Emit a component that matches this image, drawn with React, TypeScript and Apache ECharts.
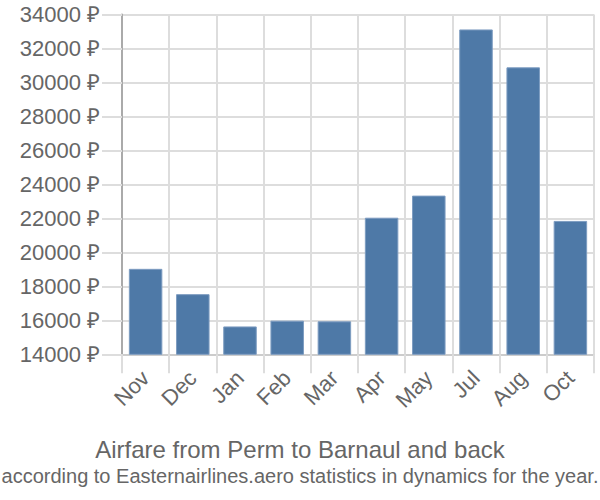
import React, { useEffect, useRef } from "react";
import * as echarts from "echarts";

const categories = ["Nov", "Dec", "Jan", "Feb", "Mar", "Apr", "May", "Jul", "Aug", "Oct"];
const prices = [19030, 17540, 15640, 15980, 15940, 22040, 23340, 33120, 30890, 21850];
const yMin = 14000;
const yMax = 34000;
const yStep = 2000;
const titleText = "Airfare from Perm to Barnaul and back";
const subtitleText = "according to Easternairlines.aero statistics in dynamics for the year.";

const FONT = "'Liberation Sans', Arial, sans-serif";
const TEXT = "#666666";

export default function App() {
  const ref = useRef<HTMLDivElement>(null);
  useEffect(() => {
    if (!ref.current) return;
    const chart = echarts.init(ref.current, undefined, { renderer: "svg" });
    chart.setOption({
      animation: false,
      title: [
        {
          text: titleText,
          left: "center",
          top: 432,
          textStyle: { fontFamily: FONT, fontSize: 24, fontWeight: "normal", color: TEXT },
        },
        {
          text: subtitleText,
          left: "center",
          top: 461,
          textStyle: { fontFamily: FONT, fontSize: 20, fontWeight: "normal", color: TEXT },
        },
      ],
      grid: { left: 122, right: 6, top: 14.5, bottom: 145.7, containLabel: false },
      xAxis: {
        type: "category",
        data: categories,
        axisLine: { show: true, lineStyle: { color: "#cccccc", width: 2 } },
        axisTick: { show: true, length: 19, lineStyle: { color: "#dddddd", width: 2 } },
        splitLine: { show: true, lineStyle: { color: "#dddddd", width: 2 } },
        axisLabel: {
          rotate: 45,
          margin: 20,
          fontFamily: FONT,
          fontSize: 22,
          color: TEXT,
        },
      },
      yAxis: {
        type: "value",
        min: yMin,
        max: yMax,
        interval: yStep,
        axisLine: { show: true, lineStyle: { color: "#aaaaaa", width: 2 } },
        axisTick: { show: true, length: 20, lineStyle: { color: "#dddddd", width: 2 } },
        splitLine: { show: true, lineStyle: { color: "#dddddd", width: 2 } },
        axisLabel: {
          margin: 22,
          fontFamily: FONT,
          fontSize: 22,
          color: TEXT,
          formatter: (v: number) => `${v} ₽`,
        },
      },
      series: [
        {
          type: "bar",
          data: prices,
          barCategoryGap: "29%",
          itemStyle: { color: "#4e79a7", borderColor: "#7d9cc1", borderWidth: 1 },
        },
      ],
    });
    return () => chart.dispose();
  }, []);
  return (
    <div
      ref={ref}
      style={{ position: "fixed", left: 0, top: 0, width: 600, height: 500, background: "#ffffff" }}
    />
  );
}
